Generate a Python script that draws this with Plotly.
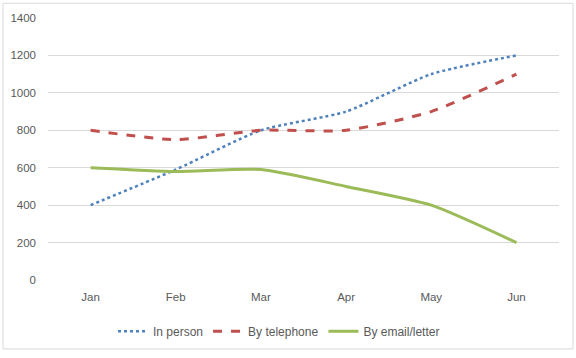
import plotly.graph_objects as go

months = ["Jan", "Feb", "Mar", "Apr", "May", "Jun"]
in_person = [400, 590, 800, 900, 1100, 1200]
by_telephone = [800, 750, 800, 800, 900, 1100]
by_email = [600, 580, 590, 500, 400, 200]

W, H = 576, 358
L, R, T, B = 48, 17, 18, 74
pw, ph = W - L - R, H - T - B

fig = go.Figure()
fig.add_trace(go.Scatter(x=months, y=in_person, name="In person", mode="lines",
                         line=dict(color="#4F81BD", width=2.5, dash="dot", shape="spline", smoothing=0.6)))
fig.add_trace(go.Scatter(x=months, y=by_telephone, name="By telephone", mode="lines",
                         line=dict(color="#C0504D", width=3, dash="dash", shape="spline", smoothing=0.6)))
fig.add_trace(go.Scatter(x=months, y=by_email, name="By email/letter", mode="lines",
                         line=dict(color="#9BBB59", width=3, shape="spline", smoothing=0.6)))

fig.update_layout(
    width=W, height=H,
    margin=dict(l=L, r=R, t=T, b=B),
    paper_bgcolor="white", plot_bgcolor="white",
    font=dict(family="Liberation Sans, Arial, sans-serif", size=11.5, color="#595959"),
    showlegend=True,
    legend=dict(orientation="h", x=(279 - L) / pw, xanchor="center", y=-0.14, yanchor="top",
                font=dict(size=12, color="#595959"), tracegroupgap=0),
    xaxis=dict(range=[-0.5, 5.5], showgrid=False, showline=False, zeroline=False, ticks="",
               ticklabelstandoff=8, automargin=False),
    yaxis=dict(range=[0, 1400], dtick=200, showgrid=True, gridcolor="#D9D9D9", gridwidth=1,
               zeroline=False, showline=False, ticks="", ticklabelstandoff=11, automargin=False),
)

fig.add_shape(type="rect", xref="paper", yref="paper",
              x0=(3 - L) / pw, x1=(573 - L) / pw,
              y0=(T + ph - 354) / ph, y1=(T + ph - 3) / ph,
              line=dict(color="#D9D9D9", width=1), fillcolor="rgba(0,0,0,0)", layer="below")

fig.write_html("out.html", config={"displayModeBar": False},
               post_script="document.body.style.margin='0';")
